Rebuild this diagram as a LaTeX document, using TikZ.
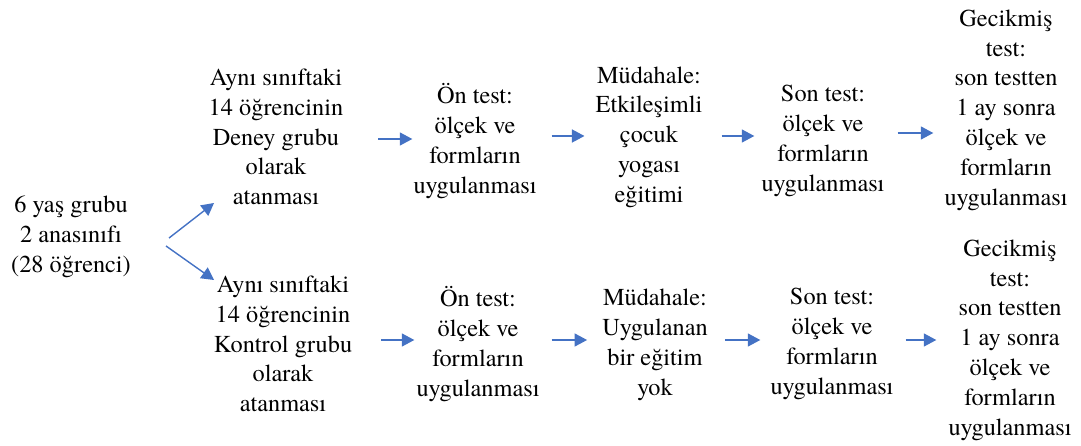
\documentclass[tikz,border=0pt]{standalone}
\usepackage{fontspec}
\setmainfont{texgyretermes-regular.otf}
\usetikzlibrary{arrows.meta}
\definecolor{arrblue}{RGB}{68,114,196}
\tikzset{
  lbl/.style={align=center, font=\fontsize{24.3}{29.8}\selectfont, inner sep=0pt},
  arr/.style={draw=arrblue, line width=1.4pt, -{Triangle[length=12.5pt,width=13pt]}, arrblue}
}
\begin{document}
\begin{tikzpicture}[x=1pt,y=-1pt]
\useasboundingbox (0,0) rectangle (1081,446);
\node[lbl] (src) at (71,237) {6 yaş grubu\\2 anasınıfı\\(28 öğrenci)};

\node[lbl] (a1) at (276,137) {Aynı sınıftaki\\14 öğrencinin\\Deney grubu\\olarak\\atanması};
\node[lbl] (a2) at (475,141) {Ön test:\\ölçek ve\\formların\\uygulanması};
\node[lbl] (a3) at (649,137) {Müdahale:\\Etkileşimli\\çocuk\\yogası\\eğitimi};
\node[lbl] (a4) at (823,141) {Son test:\\ölçek ve\\formların\\uygulanması};
\node[lbl] (a5) at (1006,110) {Gecikmiş\\test:\\son testten\\1 ay sonra\\ölçek ve\\formların\\uygulanması};

\node[lbl] (b1) at (283,344) {Aynı sınıftaki\\14 öğrencinin\\Kontrol grubu\\olarak\\atanması};
\node[lbl] (b2) at (478,344) {Ön test:\\ölçek ve\\formların\\uygulanması};
\node[lbl] (b3) at (655,345) {Müdahale:\\Uygulanan\\bir eğitim\\yok};
\node[lbl] (b4) at (832,344) {Son test:\\ölçek ve\\formların\\uygulanması};
\node[lbl] (b5) at (1010,340) {Gecikmiş\\test:\\son testten\\1 ay sonra\\ölçek ve\\formların\\uygulanması};

\draw[arr] (src.east) ++(38,1) -- ++(45,-35);
\draw[arr] (src.east) ++(35,9) -- ++(48,34);

\draw[arr, shorten <=35pt, shorten >=1pt] (a1.east |- 0,139) -- (a2.west |- 0,139);
\draw[arr, shorten <=15pt, shorten >=11pt] (a2.east |- 0,136) -- (a3.west |- 0,136);
\draw[arr, shorten <=19pt, shorten >=7pt] (a3.east |- 0,136) -- (a4.west |- 0,136);
\draw[arr, shorten <=13pt, shorten >=11pt] (a4.east |- 0,133) -- (a5.west |- 0,133);

\draw[arr, shorten <=29pt, shorten >=2pt] (b1.east |- 0,340) -- (b2.west |- 0,340);
\draw[arr, shorten <=12pt, shorten >=15pt] (b2.east |- 0,340) -- (b3.west |- 0,340);
\draw[arr, shorten <=17pt, shorten >=10pt] (b3.east |- 0,340) -- (b4.west |- 0,340);
\draw[arr, shorten <=12pt, shorten >=12pt] (b4.east |- 0,340) -- (b5.west |- 0,340);
\end{tikzpicture}
\end{document}
